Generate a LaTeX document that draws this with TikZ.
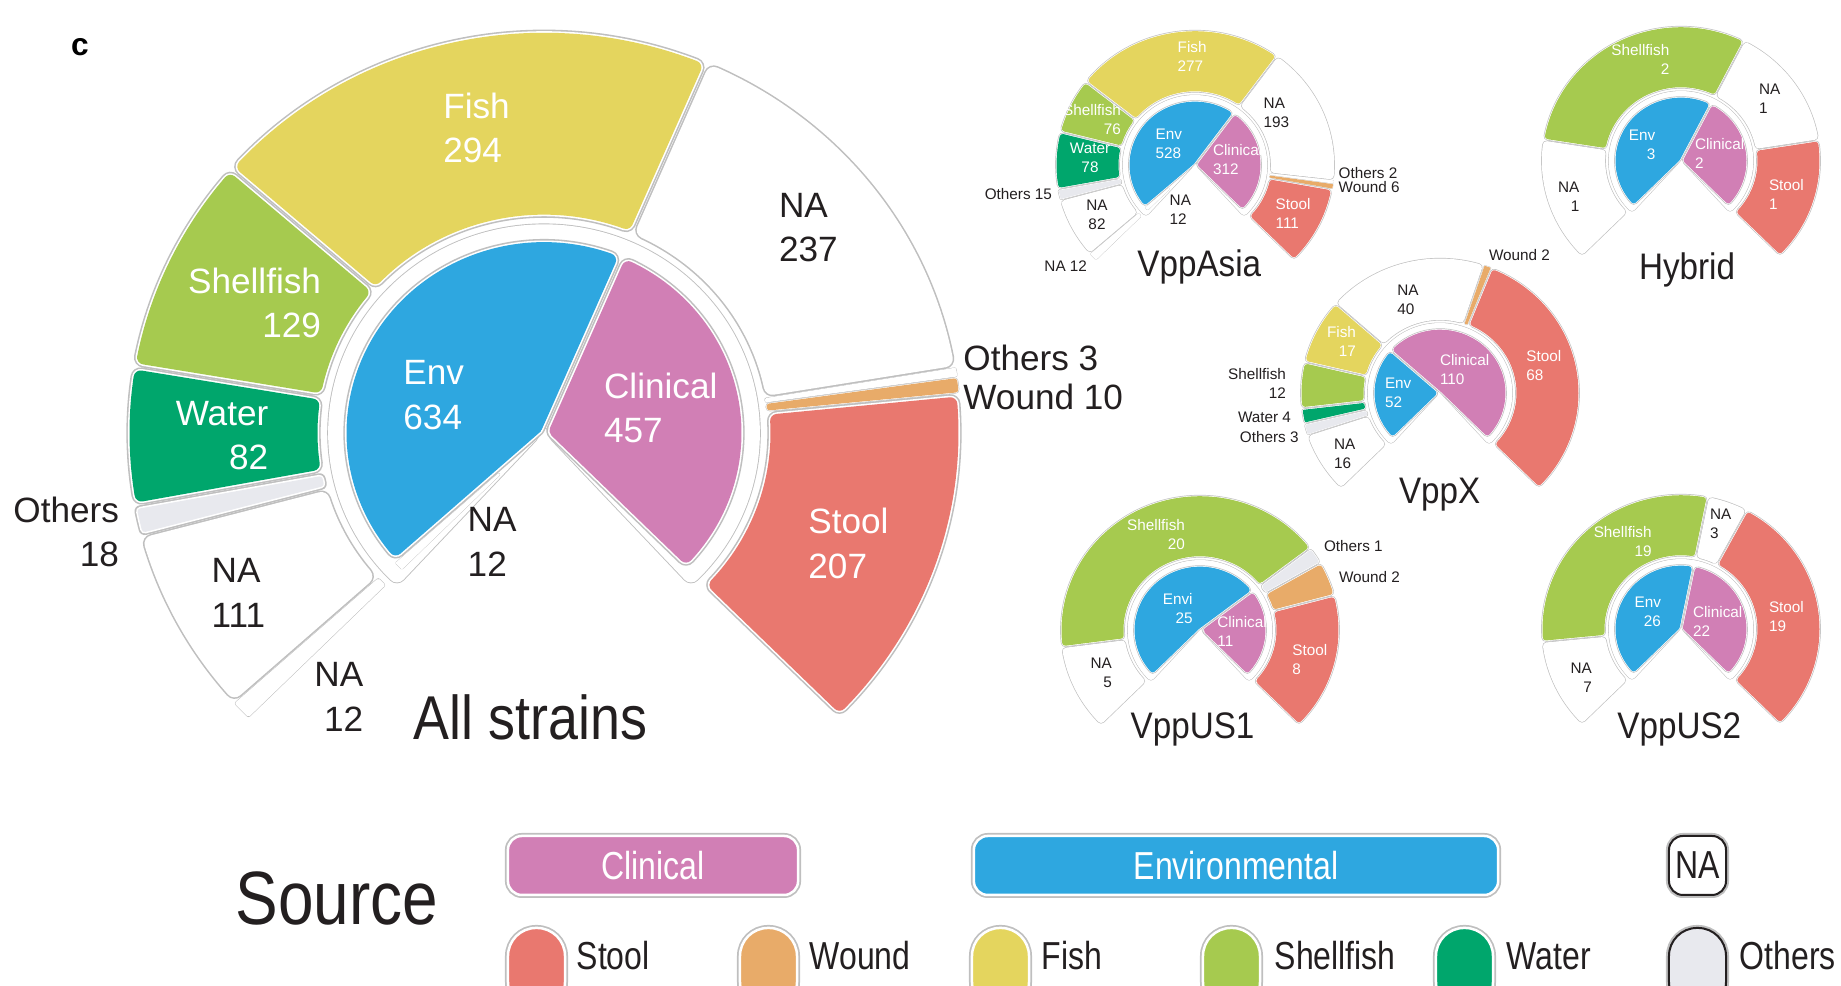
\documentclass[tikz,border=0pt]{standalone}
\usepackage{fontspec}
\setmainfont{Liberation Sans}
\usepackage{graphicx}
\definecolor{envblue}{HTML}{2EA7E0}
\definecolor{clinpink}{HTML}{D17FB5}
\definecolor{fishyel}{HTML}{E4D55E}
\definecolor{shellgrn}{HTML}{A6CA4F}
\definecolor{watergrn}{HTML}{00A66C}
\definecolor{stoolred}{HTML}{E9786F}
\definecolor{woundor}{HTML}{E8AB69}
\definecolor{othgray}{HTML}{E8E9EE}
\definecolor{ink}{HTML}{231F20}
% one rounded ring piece: colour, angle, angle, inner r, outer r, corner r, half gap
\newcommand{\sunseg}[7]{%
  \pgfmathsetmacro{\sgA}{min(#2,#3)}%
  \pgfmathsetmacro{\sgB}{max(#2,#3)}%
  \pgfmathsetmacro{\sgD}{#6+#7}%
  \pgfmathsetmacro{\sgRi}{max(#4+\sgD,\sgD/sin((\sgB-\sgA)/2))}%
  \pgfmathsetmacro{\sgRo}{#5-\sgD}%
  \pgfmathsetmacro{\sgTi}{asin(min(1,\sgD/\sgRi))}%
  \pgfmathsetmacro{\sgTo}{asin(min(1,\sgD/\sgRo))}%
  \pgfmathsetmacro{\sgAi}{\sgA+\sgTi}\pgfmathsetmacro{\sgBi}{\sgB-\sgTi}%
  \pgfmathsetmacro{\sgAo}{\sgA+\sgTo}\pgfmathsetmacro{\sgBo}{\sgB-\sgTo}%
  \def\sgpath{(\sgAi:\sgRi) -- (\sgAo:\sgRo) arc[start angle=\sgAo, end angle=\sgBo, radius=\sgRo] -- (\sgBi:\sgRi) arc[start angle=\sgBi, end angle=\sgAi, radius=\sgRi] -- cycle}%
  \draw[segshadow, line width=2*(#6+0.9*#7)*0.01cm] \sgpath;
  \draw[white, line join=round, line width=2*(#6+0.45*#7)*0.01cm] \sgpath;
  \filldraw[draw=#1, fill=#1, line join=round, line width=2*#6*0.01cm] \sgpath;
}
\tikzset{
  segshadow/.style={draw=black!25, line join=round},
  lab/.style={font=\fontsize{10}{12.66}\selectfont, inner sep=0pt, text=ink},
  labs/.style={font=\fontsize{4.35}{5.4}\selectfont, inner sep=0pt, text=ink},
  wht/.style={text=white},
  ttlbig/.style={font=\fontsize{17.6}{20}\selectfont, inner sep=0pt, anchor=base west, text=ink},
  ttlsm/.style={font=\fontsize{10.5}{12}\selectfont, inner sep=0pt, anchor=base west, text=ink},
  pill/.style={rounded corners=0.14cm, draw=white, line width=0.025cm,
    preaction={draw=black!25, line width=0.06cm, rounded corners=0.14cm},
    minimum height=0.59cm, inner sep=0pt, font=\fontsize{11.1}{13}\selectfont},
  swatch/.style={rounded corners=0.28cm, draw=white, line width=0.025cm,
    preaction={draw=black!25, line width=0.06cm, rounded corners=0.28cm},
    minimum width=0.57cm, minimum height=0.82cm, inner sep=0pt},
  legtxt/.style={font=\fontsize{11.1}{13}\selectfont, inner sep=0pt, anchor=base west, text=ink},
}
\begin{document}
\begin{tikzpicture}[x=0.01cm, y=0.01cm]
\path[use as bounding box] (0,0) rectangle (1841,986);
\clip (0,0) rectangle (1841,986);

\node[font=\fontsize{9}{10}\selectfont\bfseries, inner sep=0pt] (panel) at (80,939) {c};

%%%%% All strains %%%%%
\begin{scope}[shift={(544,553)}, yscale=0.965]
  \sunseg{white}{225}{222.06}{223}{418}{1.5}{1.2}
  \sunseg{white}{222.06}{194.89}{223}{418}{7}{3.5}
  \sunseg{othgray}{194.89}{190.48}{223}{418}{3}{3.5}
  \sunseg{watergrn}{190.48}{170.41}{223}{418}{7}{3.5}
  \sunseg{shellgrn}{170.41}{138.83}{223}{418}{7}{3.5}
  \sunseg{fishyel}{138.83}{66.86}{223}{418}{7}{3.5}
  \sunseg{white}{66.86}{9.4}{223}{418}{7}{3.5}
  \sunseg{white}{9.4}{8.0}{223}{418}{1.2}{1}
  \sunseg{woundor}{8.0}{5.66}{223}{418}{3}{1.2}
  \sunseg{stoolred}{5.66}{-45}{223}{418}{7}{3.5}
  \sunseg{white}{227.5}{-47.5}{0}{217}{8}{2}
  \sunseg{white}{225}{222.06}{0}{201}{0.8}{0.8}
  \sunseg{envblue}{222.06}{66.86}{0}{201}{7}{3.5}
  \sunseg{clinpink}{66.86}{-45}{0}{201}{7}{3.5}
\end{scope}
\node[lab, wht, anchor=west, align=left] (m-fish) at (442.6,858) {Fish\\294};
\node[lab, wht, anchor=east, align=right] (m-shell) at (321.7,683) {Shellfish\\129};
\node[lab, wht, anchor=east, align=right] (m-water) at (269,550.4) {Water\\82};
\node[lab, anchor=east, align=right] (m-oth) at (119.7,454) {Others\\18};
\node[lab, anchor=west, align=left] (m-na111) at (211,393) {NA\\111};
\node[lab, anchor=east, align=right] (m-na12o) at (364,289) {NA\\12};
\node[lab, wht, anchor=west, align=left] (m-env) at (402.7,591) {Env\\634};
\node[lab, anchor=west, align=left] (m-na12i) at (467,444) {NA\\12};
\node[lab, wht, anchor=west, align=left] (m-clin) at (603.4,578) {Clinical\\457};
\node[lab, anchor=west, align=left] (m-na237) at (778.4,758.2) {NA\\237};
\node[lab, anchor=west] (m-oth3) at (962.7,628) {Others 3};
\node[lab, anchor=west] (m-wound) at (962.7,589.2) {Wound 10};
\node[lab, wht, anchor=west, align=left] (m-stool) at (807.7,442.4) {Stool\\207};
\node[ttlbig] (m-title) at (413,246.4) {\scalebox{0.87}[1]{All strains}};

%%%%% VppAsia %%%%%
\begin{scope}[shift={(1195,821)}, yscale=0.965]
  \sunseg{white}{225}{221.2}{75}{140}{0.8}{0.8}
  \sunseg{white}{221.2}{195.21}{75}{140}{3}{1.5}
  \sunseg{othgray}{195.21}{190.46}{75}{140}{1}{1.2}
  \sunseg{watergrn}{190.46}{165.74}{75}{140}{3}{1.5}
  \sunseg{shellgrn}{165.74}{141.66}{75}{140}{3}{1.5}
  \sunseg{fishyel}{141.66}{53.87}{75}{140}{3}{1.5}
  \sunseg{white}{53.87}{-6.5}{75}{140}{3}{1.5}
  \sunseg{white}{-6.5}{-8.0}{75}{140}{0.5}{0.4}
  \sunseg{woundor}{-8.0}{-10.3}{75}{140}{0.8}{0.5}
  \sunseg{stoolred}{-10.3}{-45}{75}{140}{3}{1.5}
  \sunseg{white}{228}{-48}{0}{73}{3}{1.2}
  \sunseg{white}{225}{221.2}{0}{67}{0.6}{0.6}
  \sunseg{envblue}{221.2}{53.87}{0}{67}{3}{1.5}
  \sunseg{clinpink}{53.87}{-45}{0}{67}{3}{1.5}
\end{scope}
\node[labs, wht, anchor=west, align=left] (a-fish) at (1177,930) {Fish\\277};
\node[labs, wht, anchor=east, align=right] (a-shell) at (1121.7,866.8) {Shellfish\\76};
\node[labs, wht, align=center] (a-water) at (1090,828.3) {Water\\78};
\node[labs, anchor=east] (a-oth) at (1052.7,792.3) {Others 15};
\node[labs, align=center] (a-na82) at (1097,771.4) {NA\\82};
\node[labs, anchor=east] (a-na12o) at (1087.7,719.7) {NA 12};
\node[labs, wht, anchor=west, align=left] (a-env) at (1155,841.7) {Env\\528};
\node[labs, wht, anchor=west, align=left] (a-clin) at (1212.3,826) {Clinical\\312};
\node[labs, anchor=west, align=left] (a-na12i) at (1169,776.4) {NA\\12};
\node[labs, anchor=west, align=left] (a-na193) at (1263,873.2) {NA\\193};
\node[labs, anchor=west] (a-oth2) at (1338,813) {Others 2};
\node[labs, anchor=west] (a-wound) at (1338,798.5) {Wound 6};
\node[labs, wht, anchor=west, align=left] (a-stool) at (1275,772.7) {Stool\\111};
\node[ttlsm] (a-title) at (1136.7,709.3) {\scalebox{0.9}[1]{VppAsia}};

%%%%% Hybrid %%%%%
\begin{scope}[shift={(1681,825)}, yscale=0.965]
  \sunseg{white}{225}{171}{75}{140}{3}{1.5}
  \sunseg{shellgrn}{171}{63}{75}{140}{3}{1.5}
  \sunseg{white}{63}{9}{75}{140}{3}{1.5}
  \sunseg{stoolred}{9}{-45}{75}{140}{3}{1.5}
  \sunseg{white}{228}{-48}{0}{73}{3}{1.2}
  \sunseg{envblue}{225}{63}{0}{67}{3}{1.5}
  \sunseg{clinpink}{63}{-45}{0}{67}{3}{1.5}
\end{scope}
\node[labs, wht, anchor=east, align=right] (h-shell) at (1670,926.2) {Shellfish\\2};
\node[labs, anchor=west, align=left] (h-na1r) at (1758.3,887.7) {NA\\1};
\node[labs, wht, anchor=east, align=right] (h-env) at (1656,841.6) {Env\\3};
\node[labs, wht, anchor=west, align=left] (h-clin) at (1694.3,833) {Clinical\\2};
\node[labs, anchor=east, align=right] (h-na1l) at (1580,789.6) {NA\\1};
\node[labs, wht, anchor=west, align=left] (h-stool) at (1768.3,791.2) {Stool\\1};
\node[ttlsm] (h-title) at (1638.3,706) {\scalebox{0.9}[1]{Hybrid}};

%%%%% VppX %%%%%
\begin{scope}[shift={(1440,593)}, yscale=0.965]
  \sunseg{white}{225}{198.33}{75}{140}{3}{1.5}
  \sunseg{othgray}{198.33}{193.33}{75}{140}{1}{1.2}
  \sunseg{watergrn}{193.33}{186.67}{75}{140}{1.5}{1.5}
  \sunseg{shellgrn}{186.67}{166.67}{75}{140}{3}{1.5}
  \sunseg{fishyel}{166.67}{138.33}{75}{140}{3}{1.5}
  \sunseg{white}{138.33}{71.67}{75}{140}{3}{1.5}
  \sunseg{woundor}{71.67}{68.33}{75}{140}{0.8}{0.8}
  \sunseg{stoolred}{68.33}{-45}{75}{140}{3}{1.5}
  \sunseg{white}{228}{-48}{0}{73}{3}{1.2}
  \sunseg{envblue}{225}{138.33}{0}{67}{3}{1.5}
  \sunseg{clinpink}{138.33}{-45}{0}{67}{3}{1.5}
\end{scope}
\node[labs, anchor=west] (x-wound) at (1488.3,730.7) {Wound 2};
\node[labs, anchor=west, align=left] (x-na40) at (1396.7,686.6) {NA\\40};
\node[labs, wht, anchor=east, align=right] (x-fish) at (1356.7,644.3) {Fish\\17};
\node[labs, anchor=east, align=right] (x-shell) at (1286.7,602.5) {Shellfish\\12};
\node[labs, anchor=east] (x-water) at (1291.7,568.2) {Water 4};
\node[labs, anchor=east] (x-oth) at (1299.3,548.5) {Others 3};
\node[labs, anchor=west, align=left] (x-na16) at (1333.3,531.8) {NA\\16};
\node[labs, wht, anchor=west, align=left] (x-env) at (1384.3,592.9) {Env\\52};
\node[labs, wht, anchor=west, align=left] (x-clin) at (1439.3,616.3) {Clinical\\110};
\node[labs, wht, anchor=west, align=left] (x-stool) at (1525.7,620) {Stool\\68};
\node[ttlsm] (x-title) at (1398.3,482.7) {\scalebox{0.9}[1]{VppX}};

%%%%% VppUS1 %%%%%
\begin{scope}[shift={(1200,356)}, yscale=0.965]
  \sunseg{white}{225}{187.5}{75}{140}{3}{1.5}
  \sunseg{shellgrn}{187.5}{37.5}{75}{140}{3}{1.5}
  \sunseg{othgray}{37.5}{30}{75}{140}{2}{1.5}
  \sunseg{woundor}{30}{15}{75}{140}{3}{1.5}
  \sunseg{stoolred}{15}{-45}{75}{140}{3}{1.5}
  \sunseg{white}{228}{-48}{0}{73}{3}{1.2}
  \sunseg{envblue}{225}{37.5}{0}{67}{3}{1.5}
  \sunseg{clinpink}{37.5}{-45}{0}{67}{3}{1.5}
\end{scope}
\node[labs, wht, anchor=east, align=right] (u-shell) at (1185.7,451.8) {Shellfish\\20};
\node[labs, anchor=west] (u-oth) at (1323.3,440.2) {Others 1};
\node[labs, anchor=west] (u-wound) at (1338.3,408.5) {Wound 2};
\node[labs, wht, anchor=east, align=right] (u-env) at (1193.3,377.9) {Envi\\25};
\node[labs, wht, anchor=west, align=left] (u-clin) at (1216.7,354.1) {Clinical\\11};
\node[labs, wht, anchor=west, align=left] (u-stool) at (1291.7,326.5) {Stool\\8};
\node[labs, anchor=east, align=right] (u-na5) at (1112.5,313.2) {NA\\5};
\node[ttlsm] (u-title) at (1130,247.7) {\scalebox{0.9}[1]{VppUS1}};

%%%%% VppUS2 %%%%%
\begin{scope}[shift={(1681,357)}, yscale=0.965]
  \sunseg{white}{225}{185.625}{75}{140}{3}{1.5}
  \sunseg{shellgrn}{185.625}{78.75}{75}{140}{3}{1.5}
  \sunseg{white}{78.75}{61.875}{75}{140}{3}{1.5}
  \sunseg{stoolred}{61.875}{-45}{75}{140}{3}{1.5}
  \sunseg{white}{228}{-48}{0}{73}{3}{1.2}
  \sunseg{envblue}{225}{78.75}{0}{67}{3}{1.5}
  \sunseg{clinpink}{78.75}{-45}{0}{67}{3}{1.5}
\end{scope}
\node[labs, anchor=west, align=left] (v-na3) at (1709.3,462.2) {NA\\3};
\node[labs, wht, anchor=east, align=right] (v-shell) at (1652.3,444.5) {Shellfish\\19};
\node[labs, wht, anchor=east, align=right] (v-env) at (1661.7,374.2) {Env\\26};
\node[labs, wht, anchor=west, align=left] (v-clin) at (1692.3,364.6) {Clinical\\22};
\node[labs, wht, anchor=west, align=left] (v-stool) at (1768.3,369.5) {Stool\\19};
\node[labs, anchor=east, align=right] (v-na7) at (1592.5,307.8) {NA\\7};
\node[ttlsm] (v-title) at (1616.7,247.7) {\scalebox{0.9}[1]{VppUS2}};

%%%%% legend %%%%%
\node[font=\fontsize{21.5}{24}\selectfont, inner sep=0pt, anchor=base west, text=ink] (leg-title) at (234.8,61.5) {\scalebox{0.845}[1]{Source}};
\node[pill, fill=clinpink, text=white, minimum width=2.9cm] (leg-clin) at (653,120.5) {\scalebox{0.82}[1]{Clinical}};
\node[pill, fill=envblue, text=white, minimum width=5.24cm] (leg-env) at (1236,120.5) {\scalebox{0.82}[1]{Environmental}};
\node[pill, fill=white, draw=ink, line width=0.02cm, minimum width=0.57cm, text=ink] (leg-na) at (1697.5,120.5) {\scalebox{0.82}[1]{NA}};

\node[swatch, fill=stoolred] (sw-stool) at (536.5,17) {};
\node[swatch, fill=woundor] (sw-wound) at (768.5,17) {};
\node[swatch, fill=fishyel] (sw-fish) at (1000.5,17) {};
\node[swatch, fill=shellgrn] (sw-shell) at (1231.5,17) {};
\node[swatch, fill=watergrn] (sw-water) at (1464.5,17) {};
\node[swatch, fill=othgray, draw=ink, line width=0.02cm] (sw-oth) at (1697.5,17) {};
\node[legtxt] (lt-stool) at (576,16.2) {\scalebox{0.82}[1]{Stool}};
\node[legtxt] (lt-wound) at (809,16.2) {\scalebox{0.82}[1]{Wound}};
\node[legtxt] (lt-fish) at (1041,16.2) {\scalebox{0.82}[1]{Fish}};
\node[legtxt] (lt-shell) at (1274,16.2) {\scalebox{0.82}[1]{Shellfish}};
\node[legtxt] (lt-water) at (1506,16.2) {\scalebox{0.82}[1]{Water}};
\node[legtxt] (lt-oth) at (1739,16.2) {\scalebox{0.82}[1]{Others}};
\end{tikzpicture}
\end{document}
